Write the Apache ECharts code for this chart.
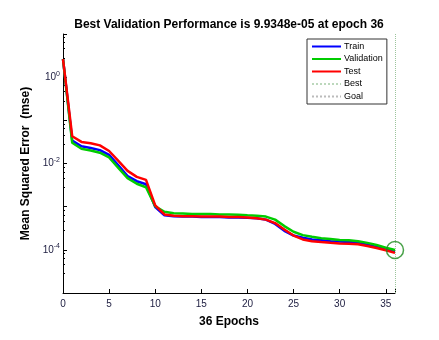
<!DOCTYPE html>
<html>
<head>
<meta charset="utf-8">
<script src="https://cdn.jsdelivr.net/npm/echarts@6/dist/echarts.min.js"></script>
<style>
  html, body { margin: 0; padding: 0; background: #fff; }
  #main { width: 439px; height: 340px; }
</style>
</head>
<body>
<div id="main"></div>
<script>
// epochs 0..36
var epochs = [];
for (var i = 0; i <= 36; i++) epochs.push(i);

var trainPerf = [2.63, 0.0339, 0.0251, 0.0229, 0.0204, 0.0158, 0.00912, 0.00513, 0.00389, 0.00331,
  9.77e-4, 6.31e-4, 6.03e-4, 5.89e-4, 5.89e-4, 5.75e-4, 5.75e-4, 5.75e-4, 5.62e-4, 5.62e-4,
  5.50e-4, 5.37e-4, 5.01e-4, 3.98e-4, 2.75e-4, 2.14e-4, 1.91e-4, 1.74e-4, 1.66e-4, 1.58e-4,
  1.55e-4, 1.51e-4, 1.45e-4, 1.32e-4, 1.17e-4, 1.02e-4, 9.12e-5];

var valPerf = [2.63, 0.0302, 0.0219, 0.0200, 0.0178, 0.0138, 0.00794, 0.00457, 0.00339, 0.00282,
  1.02e-3, 7.59e-4, 7.08e-4, 6.92e-4, 6.76e-4, 6.76e-4, 6.76e-4, 6.61e-4, 6.61e-4, 6.46e-4,
  6.31e-4, 6.17e-4, 5.89e-4, 5.01e-4, 3.55e-4, 2.63e-4, 2.19e-4, 2.00e-4, 1.86e-4, 1.78e-4,
  1.70e-4, 1.66e-4, 1.58e-4, 1.45e-4, 1.29e-4, 1.12e-4, 9.9348e-5];

var testPerf = [2.63, 0.0427, 0.0316, 0.0295, 0.0263, 0.0195, 0.0115, 0.00676, 0.00490, 0.00417,
  1.07e-3, 6.61e-4, 6.17e-4, 6.03e-4, 6.03e-4, 5.89e-4, 5.89e-4, 5.89e-4, 5.75e-4, 5.75e-4,
  5.62e-4, 5.37e-4, 5.01e-4, 4.17e-4, 2.95e-4, 2.14e-4, 1.74e-4, 1.58e-4, 1.51e-4, 1.45e-4,
  1.41e-4, 1.38e-4, 1.35e-4, 1.23e-4, 1.10e-4, 9.77e-5, 8.51e-5];

var bestEpoch = 36;
var bestValue = 9.9348e-5;

var legendNames = ['Train', 'Validation', 'Test', 'Best', 'Goal'];
var xTicks = [0, 5, 10, 15, 20, 25, 30, 35];

function pairs(vals) {
  return vals.map(function (v, i) { return [epochs[i], v]; });
}

var chart = echarts.init(document.getElementById('main'));
var txt = '#222244';
var font = 'Liberation Sans, Arial, sans-serif';

var option = {
  animation: false,
  backgroundColor: '#fff',
  title: {
    text: 'Best Validation Performance is 9.9348e-05 at epoch 36',
    left: 224, top: 14, textAlign: 'center',
    textStyle: { fontFamily: font, fontSize: 12, fontWeight: 'bold', color: '#000' }
  },
  legend: {
    data: legendNames,
    orient: 'vertical',
    left: 307, top: 39,
    padding: [3, 4, 3, 4],
    itemWidth: 29, itemHeight: 9, itemGap: 3.5,
    itemStyle: { opacity: 0 },
    backgroundColor: '#fff',
    borderColor: '#333', borderWidth: 1, borderRadius: 0,
    textStyle: { fontFamily: font, fontSize: 9, color: '#000', padding: [0, 0, 0, -2] }
  },
  grid: { left: 63, right: 44, top: 34, bottom: 47, containLabel: false },
  xAxis: {
    type: 'value', min: 0, max: 36, interval: 5,
    name: '36 Epochs', nameLocation: 'middle', nameGap: 23,
    nameTextStyle: { fontFamily: font, fontSize: 12, fontWeight: 'bold', color: '#000' },
    axisLine: { lineStyle: { color: '#000', width: 1 } },
    axisTick: { inside: true, length: 4, lineStyle: { color: '#000' } },
    axisLabel: {
      fontFamily: font, fontSize: 10, color: txt, margin: 6,
      formatter: function (v) { return xTicks.indexOf(v) >= 0 ? String(v) : ''; }
    },
    splitLine: { show: false }
  },
  yAxis: {
    type: 'log', logBase: 10, min: 1e-5, max: 10, interval: 1,
    name: 'Mean Squared Error  (mse)', nameLocation: 'middle', nameGap: 24,
    nameTextStyle: { fontFamily: font, fontSize: 12, fontWeight: 'bold', color: '#000' },
    axisLine: { show: true, lineStyle: { color: '#000', width: 1 } },
    axisTick: { inside: true, length: 4, lineStyle: { color: '#000' } },
    minorTick: { show: true, splitNumber: 5, length: 2, lineStyle: { color: '#000' } },
    axisLabel: {
      margin: 3,
      formatter: function (v) {
        var e = Math.round(Math.log10(v));
        if (e % 2 !== 0) return '';
        return '{b|10}{s|' + e + '}';
      },
      rich: {
        b: { fontFamily: font, fontSize: 10, color: txt },
        s: { fontFamily: font, fontSize: 7, color: txt, padding: [0, 0, 7, 0] }
      }
    },
    splitLine: { show: false }
  },
  series: [
    {
      name: 'Train', type: 'line', data: pairs(trainPerf),
      symbol: 'none', color: '#0000ff',
      lineStyle: { width: 2.5, color: '#0000ff' }
    },
    {
      name: 'Validation', type: 'line', data: pairs(valPerf),
      symbol: 'none', color: '#00cc00',
      lineStyle: { width: 2.5, color: '#00cc00' }
    },
    {
      name: 'Test', type: 'line', data: pairs(testPerf),
      symbol: 'none', color: '#ff0000',
      lineStyle: { width: 2.5, color: '#ff0000' }
    },
    {
      name: 'Best', type: 'line', data: [],
      symbol: 'none', color: '#bcd8bc',
      lineStyle: { width: 1, type: 'dotted', color: '#bcd8bc' },
      markLine: {
        silent: true, symbol: 'none', label: { show: false },
        lineStyle: { type: 'dotted', width: 1, color: '#9cc49c' },
        data: [{ xAxis: bestEpoch }, { yAxis: bestValue }]
      }
    },
    {
      name: 'Goal', type: 'line', data: [],
      symbol: 'none', color: '#bbbbbb',
      lineStyle: { width: 1, type: 'dotted', color: '#bbbbbb' }
    },
    {
      name: 'bestMark', type: 'scatter', data: [[bestEpoch, bestValue]],
      symbol: 'circle', symbolSize: 17, z: 5, silent: true,
      itemStyle: { color: 'transparent', borderColor: '#1a8a1a', borderWidth: 1.5 }
    }
  ]
};

chart.setOption(option);
</script>
</body>
</html>
